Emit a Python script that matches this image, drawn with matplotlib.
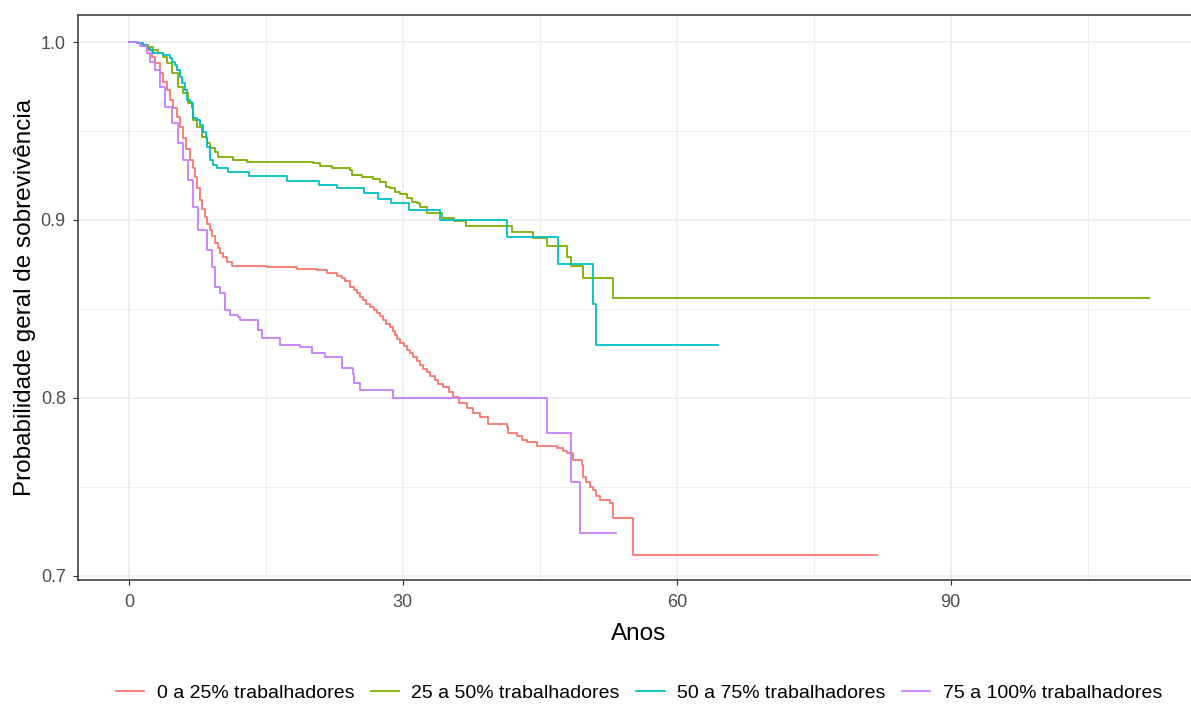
import matplotlib
matplotlib.use("Agg")
import matplotlib.pyplot as plt

plt.rcParams['font.family'] = ['Liberation Sans', 'DejaVu Sans']

labels = ["0 a 25% trabalhadores", "25 a 50% trabalhadores",
          "50 a 75% trabalhadores", "75 a 100% trabalhadores"]
colors = ["#F8766D", "#7CAE00", "#00BFC4", "#C77CFF"]

# Red: 0 a 25%
t_q1 = [0, 0.99, 1.42, 2.08, 2.52, 2.85, 3.39, 3.72, 4.16, 4.49, 4.82, 5.26, 5.58, 5.91,
        6.3, 6.68, 7.0, 7.23, 7.5, 7.77, 8.05, 8.32, 8.6, 8.87, 9.15, 9.42, 9.7, 9.96, 10.35,
        10.73, 11.28, 15.1, 18.4, 20.6, 21.7, 22.8, 23.3, 23.7, 24.2, 24.6, 25.0, 25.3, 25.6,
        26.0, 26.4, 26.8, 27.2, 27.5, 27.8, 28.2, 28.6, 28.9, 29.1, 29.4, 29.7, 30.1, 30.4,
        30.8, 31.1, 31.5, 31.9, 32.2, 32.6, 33.0, 33.5, 33.9, 34.4, 35.0, 35.5, 36.2, 37.0,
        37.7, 38.4, 39.3, 41.4, 41.5, 42.5, 43.0, 43.6, 44.7, 46.9, 47.5, 48.0, 48.6, 49.6,
        49.7, 50.1, 50.5, 50.8, 51.2, 51.6, 52.7, 53.0, 55.2, 81.9]
s_q1 = [1.0, 0.9994, 0.9983, 0.9955, 0.9916, 0.9882, 0.9826, 0.9775, 0.973, 0.9674, 0.9629,
        0.9579, 0.9522, 0.9461, 0.940, 0.9337, 0.929, 0.9242, 0.918, 0.9112, 0.906, 0.9017,
        0.898, 0.8944, 0.891, 0.8871, 0.884, 0.8815, 0.879, 0.8764, 0.8742, 0.8736, 0.8725,
        0.8719, 0.8702, 0.8685, 0.8672, 0.8657, 0.8624, 0.8607, 0.859, 0.857, 0.855, 0.853,
        0.8511, 0.8495, 0.8478, 0.8458, 0.8438, 0.8418, 0.8399, 0.8376, 0.8354, 0.833, 0.8309,
        0.829, 0.827, 0.825, 0.823, 0.8207, 0.8185, 0.8165, 0.8146, 0.8123, 0.8101, 0.808,
        0.8062, 0.8034, 0.8006, 0.7972, 0.7944, 0.7916, 0.7893, 0.7854, 0.7837, 0.7803,
        0.7787, 0.7764, 0.7753, 0.773, 0.7719, 0.7702, 0.769, 0.765, 0.7624, 0.7556, 0.7528,
        0.75, 0.7483, 0.745, 0.7427, 0.741, 0.7326, 0.7118, 0.7118]

# Green: 25 a 50%
t_q2 = [0, 0.88, 1.53, 2.08, 2.63, 3.18, 3.72, 4.16, 4.71, 5.37, 5.91, 6.46, 7.0, 7.45, 8.0,
        8.54, 8.87, 9.42, 9.74, 11.4, 12.9, 20.15, 20.9, 22.2, 24.2, 24.4, 25.5, 26.7, 27.5,
        28.2, 28.6, 29.1, 29.7, 30.4, 31.0, 31.6, 31.9, 32.6, 34.3, 35.6, 36.9, 41.9, 44.2,
        45.8, 48.0, 48.4, 49.7, 53.0, 111.7]
s_q2 = [1.0, 0.9994, 0.9983, 0.9972, 0.9955, 0.9938, 0.9916, 0.9882, 0.9826, 0.9747, 0.9713,
        0.9657, 0.9562, 0.9522, 0.9466, 0.9433, 0.9404, 0.9382, 0.9354, 0.9337, 0.9326, 0.932,
        0.9303, 0.9292, 0.9281, 0.9253, 0.9242, 0.923, 0.9213, 0.9185, 0.918, 0.9157, 0.9146,
        0.9124, 0.9101, 0.9096, 0.9073, 0.9039, 0.9011, 0.8994, 0.8966, 0.8933, 0.8899,
        0.8854, 0.8792, 0.8742, 0.8674, 0.8562, 0.8562]

# Cyan: 50 a 75%
t_q3 = [0, 0.99, 1.53, 1.97, 2.3, 2.63, 3.72, 4.49, 4.71, 5.04, 5.26, 5.58, 5.8, 6.13, 6.35,
        6.68, 6.9, 7.0, 7.45, 7.77, 8.1, 8.43, 8.54, 8.87, 9.2, 9.64, 10.84, 13.14, 17.3, 20.8,
        22.8, 25.7, 27.3, 28.7, 30.7, 34.05, 41.4, 47.0, 50.8, 51.2, 64.5]
s_q3 = [1.0, 0.9994, 0.9983, 0.9966, 0.9955, 0.9938, 0.9927, 0.991, 0.9888, 0.9871, 0.9843,
        0.9803, 0.977, 0.973, 0.9674, 0.9663, 0.9629, 0.9573, 0.9562, 0.9534, 0.9494, 0.9461,
        0.941, 0.9337, 0.9309, 0.9292, 0.927, 0.9247, 0.9219, 0.9197, 0.918, 0.9152, 0.9118,
        0.9096, 0.9056, 0.9, 0.8904, 0.8753, 0.8528, 0.8298, 0.8298]

# Purple: 75 a 100%
t_q4 = [0, 0.88, 1.2, 1.97, 2.3, 2.85, 3.39, 3.94, 4.71, 5.37, 5.91, 6.46, 7.0, 7.55, 8.54,
        9.09, 9.42, 9.96, 10.51, 11.06, 11.93, 12.15, 14.1, 14.6, 16.5, 18.7, 20.0, 21.5, 23.3,
        24.5, 24.7, 25.3, 28.9, 45.8, 48.4, 49.4, 53.3]
s_q4 = [1.0, 0.9994, 0.998, 0.9938, 0.9888, 0.9843, 0.9747, 0.9635, 0.9545, 0.9433, 0.9337,
        0.9225, 0.9073, 0.8944, 0.8831, 0.8736, 0.8624, 0.859, 0.8494, 0.8466, 0.8455, 0.8438,
        0.838, 0.8337, 0.8298, 0.8287, 0.8253, 0.823, 0.8169, 0.8135, 0.8084, 0.8045, 0.8,
        0.7803, 0.7528, 0.7242, 0.7242]

series = [(t_q1, s_q1), (t_q2, s_q2), (t_q3, s_q3), (t_q4, s_q4)]

x_ticks = [0, 30, 60, 90]
y_ticks = [0.7, 0.8, 0.9, 1.0]
y_tick_labels = ["0.7", "0.8", "0.9", "1.0"]

W, H = 1191, 704
fig = plt.figure(figsize=(W / 100, H / 100), dpi=100)
left, right, top, bottom = 78, 1200, 15, 580
ax = fig.add_axes([left / W, 1 - bottom / H, (right - left) / W, (bottom - top) / H])

for (t, s), c, lab in zip(series, colors, labels):
    ax.step(t, s, where='post', color=c, lw=1.3, label=lab)

ax.set_xlim(-5.58, 117.3)
ax.set_ylim(0.69775, 1.01517)
ax.set_xticks(x_ticks)
ax.set_xticks([15, 45, 75, 105], minor=True)
ax.set_yticks(y_ticks)
ax.set_yticklabels(y_tick_labels)
ax.set_yticks([0.75, 0.85, 0.95], minor=True)
ax.grid(which='major', color='#EBEBEB', lw=1.1)
ax.grid(which='minor', color='#EBEBEB', lw=0.6)
ax.set_axisbelow(True)
ax.tick_params(which='major', length=3.8, width=0.8, color='#333333', labelcolor='#4D4D4D',
               labelsize=13)
ax.tick_params(axis='x', pad=6)
ax.tick_params(axis='y', pad=5)
ax.tick_params(which='minor', length=0)
for sp in ax.spines.values():
    sp.set_color('#333333')
    sp.set_linewidth(1.1)

ax.set_xlabel("Anos", fontsize=17.5, labelpad=9)
ax.set_ylabel("Probabilidade geral de sobrevivência", fontsize=17.5, labelpad=3)

fig.legend(*ax.get_legend_handles_labels(), loc='center', bbox_to_anchor=(639 / W, 1 - 693 / H),
           ncol=4, frameon=False, fontsize=14, handlelength=1.45, handletextpad=0.65,
           columnspacing=0.85)

fig.savefig("out.png", dpi=100)
